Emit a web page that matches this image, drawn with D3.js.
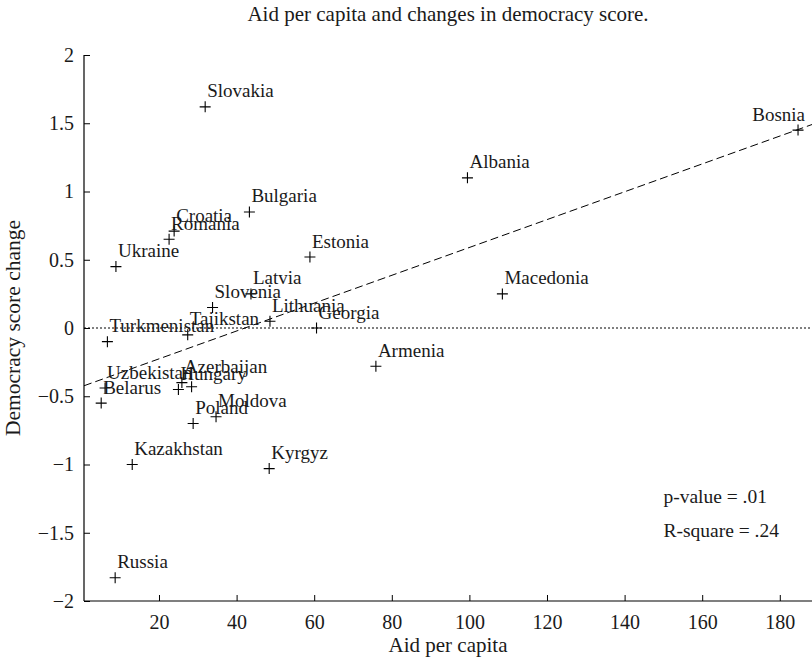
<!DOCTYPE html>
<html>
<head>
<meta charset="utf-8">
<script src="https://cdn.jsdelivr.net/npm/d3@7"></script>
<style>
  html, body { margin: 0; padding: 0; background: #fff; }
  svg { display: block; }
  text { font-family: "Liberation Serif", "Times New Roman", serif; fill: #1a1a1a; }
</style>
</head>
<body>
<svg id="chart" width="812" height="659"></svg>
<script>
// ---- data ----
const countries = ["Slovakia","Bosnia","Albania","Bulgaria","Croatia","Romania","Ukraine","Estonia",
  "Latvia","Slovenia","Lithuania","Georgia","Macedonia","Tajikstan","Turkmenistan","Armenia",
  "Uzbekistan","Azerbaijan","Hungary","","Belarus","Poland","Moldova","Kazakhstan","Kyrgyz","Russia"];
const aidPerCapita = [31.9,184.7,99.5,43.3,23.9,22.6,8.9,58.9,
  43.7,33.8,48.6,60.6,108.5,27.4,6.7,75.9,
  6.1,25.9,25.0,28.4,5.1,28.8,34.7,13.1,48.4,8.7];
const democracyChange = [1.62,1.45,1.10,0.85,0.71,0.65,0.45,0.52,
  0.25,0.15,0.05,0.0,0.25,-0.05,-0.10,-0.28,
  -0.44,-0.40,-0.45,-0.43,-0.55,-0.70,-0.65,-1.0,-1.03,-1.83];
const xTicks = [20,40,60,80,100,120,140,160,180];
const yTicks = [-2,-1.5,-1,-0.5,0,0.5,1,1.5,2];
const fitIntercept = -0.43, fitSlope = 0.0102;
const annotations = ["p-value = .01","R-square = .24"];
const titleText = "Aid per capita and changes in democracy score.";
const xLabel = "Aid per capita";
const yLabel = "Democracy score change";

// ---- layout ----
const svg = d3.select("#chart");
const x = d3.scaleLinear().domain([0.67, 188.3]).range([84, 812]);
const y = d3.scaleLinear().domain([-2, 2]).range([601, 55]);
const fmt = v => (v < 0 ? "\u2212" : "") + Math.abs(v);

// axes
const xAxis = d3.axisBottom(x).tickValues(xTicks).tickSize(-6).tickPadding(14).tickFormat(d3.format("d"));
const yAxis = d3.axisLeft(y).tickValues(yTicks).tickSize(-6).tickPadding(14).tickFormat(fmt);

const gx = svg.append("g").attr("transform", `translate(0,${y(-2)})`).call(xAxis);
const gy = svg.append("g").attr("transform", `translate(${x.range()[0]},0)`).call(yAxis);
[gx, gy].forEach(g => {
  g.attr("font-family", null);
  g.select(".domain").attr("stroke", "#000").attr("stroke-width", 1.2);
  g.selectAll(".tick line").attr("stroke", "#000").attr("stroke-width", 1);
  g.selectAll(".tick text").style("font-family", "'Liberation Serif', serif").style("font-size", "20px").attr("fill", "#1a1a1a");
});
gx.select(".domain").attr("d", `M${x.range()[0]},0H${x.range()[1]}`);
gy.select(".domain").attr("d", `M0,${y(-2)}V${y(2)}`);
gx.selectAll(".tick text").attr("dy", "0.71em");
gy.selectAll(".tick text").attr("dx", "4");

// zero line (dotted)
svg.append("line")
  .attr("x1", x.range()[0]).attr("x2", x.range()[1])
  .attr("y1", y(0)).attr("y2", y(0))
  .attr("stroke", "#000").attr("stroke-width", 1).attr("stroke-dasharray", "2,2");

// regression line (dashed)
const [x0, x1] = x.domain();
svg.append("line")
  .attr("x1", x(x0)).attr("y1", y(fitIntercept + fitSlope * x0))
  .attr("x2", x(x1)).attr("y2", y(fitIntercept + fitSlope * x1))
  .attr("stroke", "#000").attr("stroke-width", 1).attr("stroke-dasharray", "8,4");

// points
const pts = countries.map((c, i) => ({ name: c, ax: aidPerCapita[i], dc: democracyChange[i] }));
const m = 5.5;
const gp = svg.append("g");
pts.forEach(p => {
  const cx = x(p.ax), cy = y(p.dc);
  gp.append("path")
    .attr("d", `M${cx - m},${cy}H${cx + m}M${cx},${cy - m}V${cy + m}`)
    .attr("stroke", "#000").attr("stroke-width", 1.1).attr("fill", "none");
  if (p.name) {
    const overflow = cx > 740;
    gp.append("text")
      .attr("x", overflow ? cx + 7 : cx + 2)
      .attr("y", cy - 9.5)
      .attr("text-anchor", overflow ? "end" : "start")
      .style("font-size", "19px")
      .text(p.name);
  }
});

// annotations
annotations.forEach((t, i) => {
  svg.append("text")
    .attr("x", x(150)).attr("y", y(-1.28 - 0.25 * i))
    .style("font-size", "19.5px")
    .text(t);
});

// title and labels
svg.append("text").attr("x", 448).attr("y", 21).attr("text-anchor", "middle")
  .style("font-size", "21px").text(titleText);
svg.append("text").attr("x", 448).attr("y", 652).attr("text-anchor", "middle")
  .style("font-size", "21px").text(xLabel);
svg.append("text").attr("transform", `translate(20,${y(0)}) rotate(-90)`).attr("text-anchor", "middle")
  .style("font-size", "21.5px").text(yLabel);
</script>
</body>
</html>
